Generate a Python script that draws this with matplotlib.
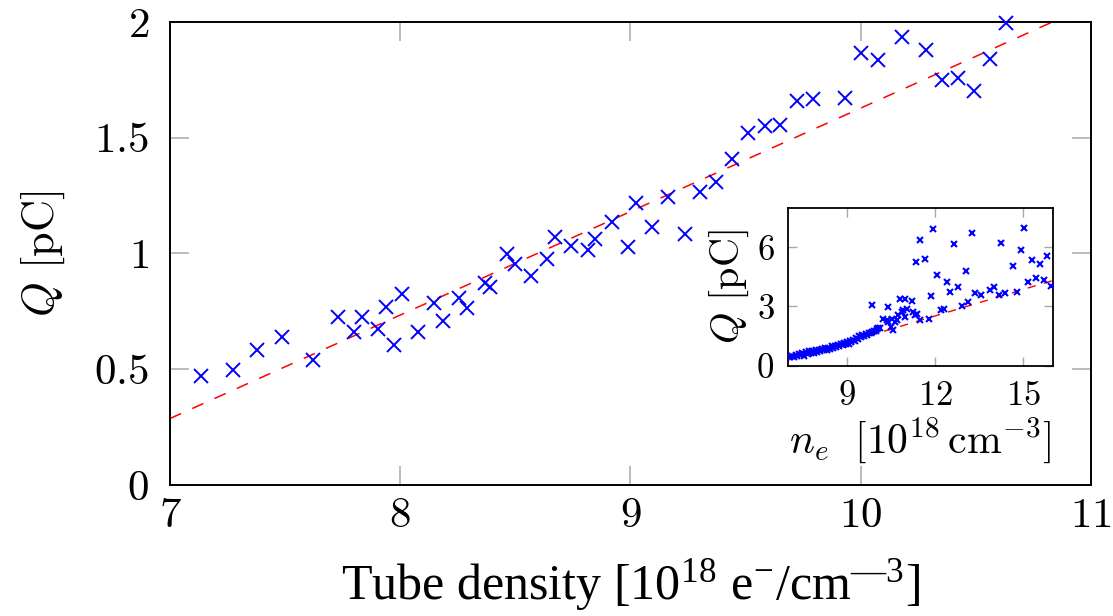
import matplotlib
matplotlib.use("Agg")
import numpy as np
import matplotlib.pyplot as plt
from matplotlib.font_manager import FontProperties

plt.rcParams['font.family'] = ['Liberation Serif', 'DejaVu Serif']
plt.rcParams['mathtext.fontset'] = 'cm'

# main measurement: tube density vs charge
tube_density = [7.133, 7.273, 7.379, 7.485, 7.622, 7.729, 7.799, 7.833, 7.903, 7.938,
                7.974, 8.008, 8.078, 8.146, 8.184, 8.254, 8.288, 8.370, 8.391, 8.463,
                8.497, 8.569, 8.637, 8.673, 8.742, 8.815, 8.848, 8.918, 8.989, 9.025,
                9.095, 9.163, 9.236, 9.303, 9.372, 9.443, 9.512, 9.583, 9.651, 9.722,
                9.791, 9.933, 10.003, 10.073, 10.178, 10.284, 10.352, 10.421, 10.492,
                10.562, 10.633]
charge = [0.472, 0.495, 0.584, 0.641, 0.540, 0.726, 0.662, 0.726, 0.675, 0.770,
          0.606, 0.825, 0.660, 0.786, 0.710, 0.808, 0.765, 0.871, 0.857, 0.998,
          0.955, 0.903, 0.975, 1.070, 1.034, 1.015, 1.061, 1.137, 1.029, 1.217,
          1.116, 1.245, 1.084, 1.264, 1.310, 1.407, 1.519, 1.551, 1.556, 1.660,
          1.669, 1.672, 1.865, 1.835, 1.937, 1.878, 1.749, 1.756, 1.700,
          1.841, 1.997]

# linear fit (red dashed)
fit_slope = 0.447
fit_intercept = -2.842

# inset: full density scan
ne_inset = [7.05, 7.12, 7.18, 7.25, 7.30, 7.36, 7.42, 7.48, 7.55, 7.60,
            7.66, 7.72, 7.76, 7.82, 7.88, 7.93, 7.98, 8.03, 8.08, 8.14,
            8.20, 8.25, 8.30, 8.36, 8.42, 8.47, 8.52, 8.58, 8.63, 8.68,
            8.74, 8.79, 8.85, 8.90, 8.96, 9.01, 9.06, 9.10, 9.15, 9.20,
            9.26, 9.30, 9.36, 9.41, 9.46, 9.52, 9.58, 9.63, 9.68, 9.74,
            9.80, 9.86, 9.92, 9.97, 10.05, 10.01, 10.13, 10.24, 10.35, 10.41,
            10.52, 10.64, 10.49, 10.58, 10.70, 10.75, 10.86, 10.92, 11.03, 10.98,
            11.26, 11.32, 11.47, 11.38, 9.84, 10.38, 10.81, 10.98, 11.20, 11.34,
            11.47, 11.66, 11.94, 12.06, 11.85, 11.78, 12.19, 12.31, 12.40, 12.51,
            12.65, 12.76, 12.91, 13.05, 13.13, 13.25, 13.36, 13.56, 13.88, 14.01,
            14.25, 14.16, 14.39, 14.64, 14.79, 14.92, 15.04, 15.15, 15.31, 15.43,
            15.58, 15.70, 15.81, 15.93]
q_inset = [0.45, 0.50, 0.42, 0.55, 0.48, 0.58, 0.52, 0.62, 0.50, 0.68,
           0.60, 0.72, 0.64, 0.75, 0.66, 0.78, 0.70, 0.82, 0.74, 0.85,
           0.78, 0.88, 0.82, 0.92, 0.86, 0.98, 0.92, 1.02, 0.96, 1.06,
           1.00, 1.10, 1.04, 1.14, 1.08, 1.20, 1.12, 1.24, 1.18, 1.30,
           1.26, 1.38, 1.34, 1.48, 1.44, 1.56, 1.52, 1.62, 1.58, 1.68,
           1.66, 1.72, 1.78, 1.74, 1.90, 1.85, 1.92, 2.39, 2.31, 2.22,
           2.36, 2.22, 1.97, 1.80, 2.31, 2.56, 2.73, 2.81, 2.86, 2.47,
           2.73, 2.56, 2.31, 2.64, 3.07, 2.98, 3.40, 3.40, 3.27, 5.25,
           6.35, 5.39, 6.94, 4.58, 3.54, 2.39, 2.83, 2.88, 4.24, 3.74,
           6.18, 3.97, 3.01, 4.81, 3.23, 6.74, 3.69, 3.60, 3.82, 3.97,
           6.23, 3.57, 3.70, 5.03, 3.74, 5.84, 6.99, 4.24, 5.34, 4.44,
           5.13, 4.33, 5.54, 4.04]

main_xticks = [7, 8, 9, 10, 11]
main_xticklabels = ['$7$', '$8$', '$9$', '$10$', '$11$']
main_yticks = [0, 0.5, 1, 1.5, 2]
main_yticklabels = ['$0$', '$0.5$', '$1$', '$1.5$', '$2$']
inset_xticks = [9, 12, 15]
inset_xticklabels = ['$9$', '$12$', '$15$']
inset_yticks = [0, 3, 6]
inset_yticklabels = ['$0$', '$3$', '$6$']

fig = plt.figure(figsize=(11.13, 6.16), dpi=100)
ax = fig.add_axes([0.1527, 0.2127, 0.8275, 0.7516])

xf = np.array([7, 11])
ax.plot(xf, fit_slope * xf + fit_intercept, color='#ff0000', lw=1.1,
        dashes=(8, 8), zorder=2)
ax.plot(tube_density, charge, 'x', color='#0000ff', ms=9.5, mew=1.4,
        clip_on=False, zorder=3)

ax.set_xlim(7, 11)
ax.set_ylim(0, 2)
ax.set_xticks(main_xticks)
ax.set_xticklabels(main_xticklabels)
ax.set_yticks(main_yticks)
ax.set_yticklabels(main_yticklabels)
ax.tick_params(direction='in', length=13.7, width=1.1, color='#a8a8a8',
               top=True, right=True, labelsize=31)
ax.tick_params(axis='y', pad=15)
ax.tick_params(axis='x', pad=9)
for s in ax.spines.values():
    s.set_linewidth(1.4)

xfont = FontProperties(family='Liberation Serif', size=36, math_fontfamily='stix')
ax.set_xlabel('Tube density [10$^{\\mathregular{18}}$ e$^{\\mathregular{-}}$/cm$^{\\mathregular{—3}}$]',
              fontproperties=xfont, labelpad=15)
ax.set_ylabel(r'$Q\ [\mathrm{pC}]$', fontsize=32, labelpad=20)

# inset
axi = fig.add_axes([0.7083, 0.4063, 0.2375, 0.2565])
xi = np.array([7, 16])
axi.plot(xi, fit_slope * xi + fit_intercept, color='#ff0000', lw=1.0,
         dashes=(6, 6), zorder=2)
axi.plot(ne_inset, q_inset, 'x', color='#0000ff', ms=3.8, mew=1.5, zorder=3)
axi.set_xlim(7, 16)
axi.set_ylim(0, 8)
axi.set_xticks(inset_xticks)
axi.set_xticklabels(inset_xticklabels)
axi.set_yticks(inset_yticks)
axi.set_yticklabels(inset_yticklabels)
axi.tick_params(direction='in', length=6.5, width=1.0, color='#a8a8a8',
                top=True, right=True, labelsize=25, pad=10)
for s in axi.spines.values():
    s.set_linewidth(1.3)
axi.set_xlabel(r'$n_e\ \ [10^{18}\,\mathrm{cm}^{-3}]$', fontsize=30, labelpad=2)
axi.set_ylabel(r'$Q\ [\mathrm{pC}]$', fontsize=29, labelpad=4)

fig.savefig('out.png', dpi=100)
